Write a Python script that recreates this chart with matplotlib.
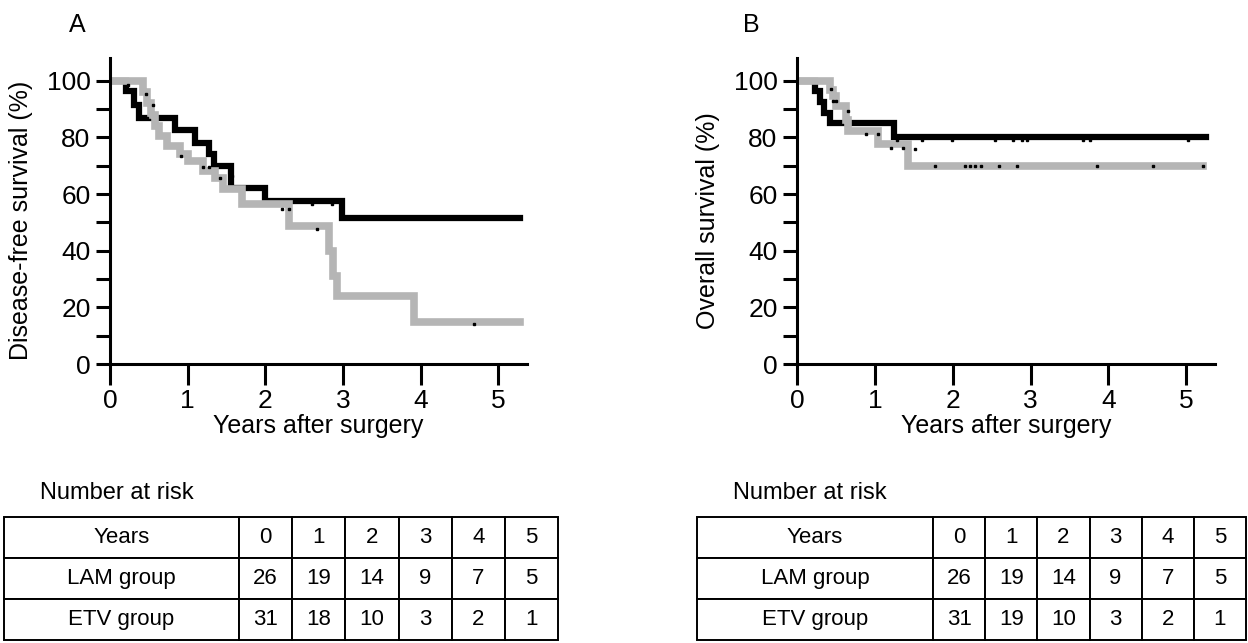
import matplotlib
matplotlib.use('Agg')
import matplotlib.pyplot as plt

plt.rcParams['font.family'] = ['Liberation Sans', 'DejaVu Sans']

# 数据
# A: 无病生存
a_lam_t = [0.05, 0.20, 0.31, 0.37, 0.84, 1.09, 1.28, 1.34, 1.56, 1.99, 2.99, 5.28]
a_lam_s = [100, 96.2, 91.5, 87, 82.7, 78, 74, 70, 62, 57.5, 51.4, 51.4]
a_etv_t = [0.05, 0.43, 0.48, 0.53, 0.58, 0.63, 0.73, 0.90, 1.01, 1.20, 1.35, 1.46, 1.70, 2.30, 2.82, 2.87, 2.92, 3.92, 5.28]
a_etv_s = [100, 96, 92, 88, 84, 80.4, 76.9, 74, 71.6, 68, 65.7, 61.6, 56.3, 48.7, 40, 31, 24, 14.7, 14.7]
a_cens_t = [0.23, 0.47, 0.56, 0.48, 0.92, 1.20, 1.27, 1.42, 1.57, 2.22, 2.30, 2.67, 2.60, 2.86, 4.69]
a_cens_s = [98.6, 95.3, 91.5, 86.9, 73.4, 69.6, 69.6, 65.7, 66.3, 54.6, 54.6, 47.5, 56.6, 56.6, 14.1]

# B: 总生存
b_lam_t = [0.05, 0.23, 0.30, 0.35, 0.42, 1.24, 5.26]
b_lam_s = [100, 96.2, 92.3, 88.5, 85, 80, 80]
b_etv_t = [0.05, 0.42, 0.46, 0.50, 0.63, 0.66, 1.04, 1.43, 5.22]
b_etv_s = [100, 96.8, 94.5, 91, 86, 82.4, 77.7, 70, 70]
b_cens_t = [0.44, 0.46, 0.50, 0.65, 0.89, 1.04, 1.21, 1.36, 1.51, 1.28, 1.60, 1.99, 2.55, 2.78, 2.89,
            2.96, 3.67, 3.77, 5.02, 1.77, 2.16, 2.22, 2.29, 2.37, 2.59, 2.83, 3.86, 4.57, 5.21]
b_cens_s = [97.1, 92.9, 92.9, 89.4, 81.2, 81.2, 76.2, 76.2, 75.9, 78.9, 78.9, 78.9, 78.9, 78.9, 78.9,
            78.9, 78.9, 78.9, 78.9, 69.8, 69.8, 69.8, 69.8, 69.8, 69.8, 69.8, 69.8, 69.8, 69.8]

# 风险人数表
years = ['0', '1', '2', '3', '4', '5']
a_lam_risk = [26, 19, 14, 9, 7, 5]
a_etv_risk = [31, 18, 10, 3, 2, 1]
b_lam_risk = [26, 19, 14, 9, 7, 5]
b_etv_risk = [31, 19, 10, 3, 2, 1]

W, H = 1248, 643
fig = plt.figure(figsize=(W / 100, H / 100), dpi=100)


def km_panel(rect, lam_t, lam_s, etv_t, etv_s, cens_t, cens_s, ylabel, letter, letter_x):
    ax = fig.add_axes(rect)
    ax.step(lam_t, lam_s, where='post', color='black', linewidth=4.5, solid_joinstyle='miter')
    ax.step(etv_t, etv_s, where='post', color='#b5b5b5', linewidth=5.5, solid_joinstyle='miter')
    ax.plot(cens_t, cens_s, 's', color='black', markersize=1.8)
    ax.set_xlim(0, 5.37)
    ax.set_ylim(0, 108)
    for s in ['top', 'right']:
        ax.spines[s].set_visible(False)
    for s in ['left', 'bottom']:
        ax.spines[s].set_linewidth(2.2)
    ax.set_xticks(range(6))
    ax.set_yticks(range(0, 101, 20))
    ax.set_yticks(range(10, 100, 20), minor=True)
    ax.tick_params(axis='y', which='both', length=10, width=2.2, labelsize=19, pad=4)
    ax.tick_params(axis='x', length=15, width=2.2, labelsize=19, pad=3)
    ax.set_xlabel('Years after surgery', fontsize=18, labelpad=1)
    ax.set_ylabel(ylabel, fontsize=18)
    ax.yaxis.set_label_coords(-0.185, 0.47)
    fig.text(letter_x / W, 1 - 25 / H, letter, fontsize=18, ha='center', va='center')
    return ax


def risk_table(x0, x1, first_w, lam_risk, etv_risk, title_x):
    top, bottom = 517, 640
    tax = fig.add_axes([x0 / W, 1 - bottom / H, (x1 - x0) / W, (bottom - top) / H])
    tax.axis('off')
    rows = [['Years'] + years,
            ['LAM group'] + [str(v) for v in lam_risk],
            ['ETV group'] + [str(v) for v in etv_risk]]
    fw = first_w / (x1 - x0)
    cw = (1 - fw) / 6
    tb = tax.table(cellText=rows, cellLoc='center', bbox=[0, 0, 1, 1],
                   colWidths=[fw] + [cw] * 6)
    tb.auto_set_font_size(False)
    tb.set_fontsize(16)
    for cell in tb.get_celld().values():
        cell.set_linewidth(1.4)
    fig.text(title_x / W, 1 - 493 / H, 'Number at risk', fontsize=17, ha='left', va='center')


km_panel([110 / W, 1 - 364 / H, 417 / W, 306 / H], a_lam_t, a_lam_s, a_etv_t, a_etv_s,
         a_cens_t, a_cens_s, 'Disease-free survival (%)', 'A', 77)
km_panel([797 / W, 1 - 364 / H, 418 / W, 306 / H], b_lam_t, b_lam_s, b_etv_t, b_etv_s,
         b_cens_t, b_cens_s, 'Overall survival (%)', 'B', 751)

risk_table(4, 558, 235, a_lam_risk, a_etv_risk, 40)
risk_table(697, 1246, 236, b_lam_risk, b_etv_risk, 733)

fig.savefig('out.png', dpi=100)
